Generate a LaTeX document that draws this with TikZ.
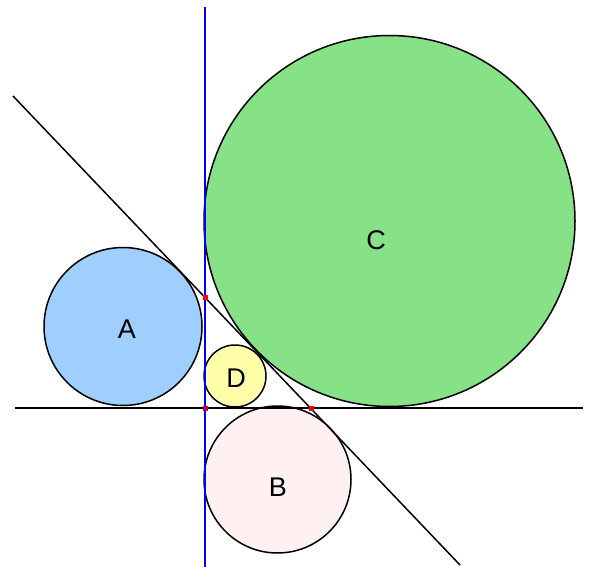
\documentclass[tikz,border=0pt]{standalone}
\usepackage{fontspec}
\setmainfont{Liberation Sans}
\definecolor{fillA}{RGB}{158,207,255}
\definecolor{fillB}{RGB}{255,240,242}
\definecolor{fillC}{RGB}{135,225,135}
\definecolor{fillD}{RGB}{255,255,170}
\begin{document}
\begin{tikzpicture}[x=1pt,y=-1pt,
    disc/.style={draw,line width=1.5pt},
    lbl/.style={font=\fontsize{27}{27}\selectfont},
    pt/.style={fill=red,minimum size=5pt,inner sep=0pt}]
    \useasboundingbox (0,0) rectangle (589,567);
    \draw[disc,fill=fillA] (123,326.5) circle [radius=79];
    \draw[disc,fill=fillC] (389.5,221) circle [radius=185.5];
    \draw[disc,fill=fillD] (235,376) circle [radius=31];
    \draw[disc,fill=fillB] (277.5,479.5) circle [radius=73.5];
    \node[lbl] (labA) at (127,329) {A};
    \node[lbl] (labC) at (376,240) {C};
    \node[lbl] (labD) at (236,378) {D};
    \node[lbl] (labB) at (278,487) {B};

    \coordinate (diagS) at (13,96);
    \coordinate (diagE) at (460,565);
    \draw[line width=1.5pt] (15,408) -- (583,408);
    \draw[line width=1.5pt] (diagS) -- (diagE);
    \draw[blue,line width=1.5pt] (205,7) -- (205,567);

    \node[pt] (p1) at (205,297) {};
    \node[pt] (p2) at (311,408) {};
    \node[pt,fill=purple] (p3) at (205,408) {};
\end{tikzpicture}
\end{document}
